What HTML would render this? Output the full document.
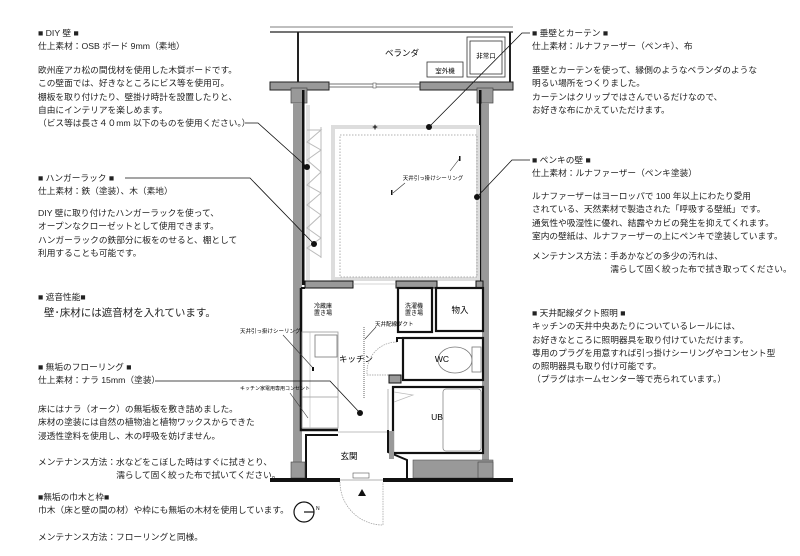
<!DOCTYPE html>
<html><head><meta charset="utf-8"><style>
body{margin:0;background:#fff;}
#w{position:relative;width:800px;height:556px;overflow:hidden;font-family:"Liberation Sans","Noto Sans CJK JP",sans-serif;color:#222;}
.t{position:absolute;font-size:8.7px;line-height:13.3px;white-space:pre;}
svg{position:absolute;left:0;top:0;}
</style></head><body><div id="w">
<svg width="800" height="556" viewBox="0 0 800 556" font-family="Liberation Sans, Noto Sans CJK JP, sans-serif">
<line x1="270" y1="27" x2="513" y2="27" stroke="#555" stroke-width="0.8"/>
<line x1="270" y1="32" x2="513" y2="32" stroke="#222" stroke-width="1.2"/>
<rect x="297" y="32" width="2" height="50" fill="#222"/>
<rect x="509" y="32" width="2" height="50" fill="#222"/>
<text x="402" y="56" font-size="8.5" text-anchor="middle">ベランダ</text>
<rect x="427" y="62" width="36" height="15" fill="none" stroke="#333" stroke-width="0.8"/>
<text x="445" y="73" font-size="6.5" text-anchor="middle">室外機</text>
<rect x="467" y="37" width="38" height="40" fill="none" stroke="#333" stroke-width="0.8"/>
<rect x="470" y="41" width="32" height="33" fill="none" stroke="#333" stroke-width="0.8"/>
<text x="486" y="58" font-size="6.5" text-anchor="middle">非常口</text>
<rect x="270" y="82" width="59" height="8" fill="#999" stroke="#222" stroke-width="1"/>
<rect x="420" y="82" width="93" height="8" fill="#999" stroke="#222" stroke-width="1"/>
<line x1="329" y1="84" x2="420" y2="84" stroke="#444" stroke-width="0.7"/>
<line x1="329" y1="87" x2="420" y2="87" stroke="#444" stroke-width="0.7"/>
<rect x="373" y="83" width="3" height="5" fill="#fff" stroke="#444" stroke-width="0.5"/>
<rect x="291" y="88" width="16" height="15" fill="#999" stroke="#444" stroke-width="0.7"/>
<rect x="477" y="88" width="16" height="15" fill="#999" stroke="#444" stroke-width="0.7"/>
<rect x="293" y="103" width="9" height="360" fill="#999"/>
<rect x="482" y="103" width="7" height="357" fill="#999"/>
<rect x="302" y="90" width="2.5" height="195" fill="#111"/>
<rect x="479" y="90" width="2.5" height="195" fill="#111"/>
<rect x="306" y="105" width="4" height="175" fill="#e2e2e2"/>
<g stroke="#bbb" stroke-width="1" fill="none">
<line x1="321" y1="127" x2="321" y2="258"/>
<polyline points="307,130 321,130 307,142 321,150 307,160 321,172 307,185 321,193 307,205 321,215 307,228 321,238 307,248 321,257"/>
</g>
<rect x="333" y="127" width="145" height="152" fill="none" stroke="#ddd" stroke-width="4"/>
<rect x="340" y="135" width="137" height="142" fill="none" stroke="#999" stroke-width="0.8" stroke-dasharray="1.5,1.5"/>
<rect x="305" y="281" width="48" height="7" fill="#999" stroke="#111" stroke-width="1"/>
<rect x="396" y="281" width="41" height="7" fill="#999" stroke="#111" stroke-width="1"/>
<rect x="476" y="281" width="7" height="7" fill="#999" stroke="#111" stroke-width="1"/>
<line x1="353" y1="284" x2="396" y2="284" stroke="#aaa" stroke-width="0.6"/>
<polyline points="301,288 301,430 338,430" fill="none" stroke="#111" stroke-width="2.5"/>
<rect x="398" y="288" width="34" height="44" fill="none" stroke="#111" stroke-width="2.2"/>
<rect x="436" y="288" width="47" height="43" fill="none" stroke="#111" stroke-width="2.2"/>
<line x1="301" y1="288" x2="305" y2="288" stroke="#111" stroke-width="2"/>
<rect x="302" y="332" width="36" height="96" fill="none" stroke="#999" stroke-width="0.8"/>
<line x1="310" y1="332" x2="310" y2="428" stroke="#bbb" stroke-width="0.6"/>
<line x1="302" y1="397" x2="338" y2="397" stroke="#999" stroke-width="0.7"/>
<rect x="315" y="335" width="22" height="22" fill="none" stroke="#777" stroke-width="0.8"/>
<text x="323" y="308" font-size="6" text-anchor="middle">冷蔵庫</text>
<text x="323" y="315" font-size="6" text-anchor="middle">置き場</text>
<text x="414" y="308" font-size="6" text-anchor="middle">洗濯機</text>
<text x="414" y="315" font-size="6" text-anchor="middle">置き場</text>
<text x="460" y="313" font-size="8.5" text-anchor="middle">物入</text>
<text x="356" y="362" font-size="8.5" text-anchor="middle">キッチン</text>
<line x1="364" y1="327" x2="364" y2="398" stroke="#999" stroke-width="1.5" stroke-dasharray="1,1"/>
<text x="375" y="326" font-size="5.5">天井配線ダクト</text>
<line x1="376" y1="327" x2="365" y2="339" stroke="#333" stroke-width="0.6"/>
<path d="M397,342 A30,30 0 0 0 367,372 L367,375 L397,375" fill="none" stroke="#999" stroke-width="0.7" stroke-dasharray="1.5,1"/>
<rect x="403" y="338" width="80" height="42" fill="none" stroke="#111" stroke-width="2.2"/>
<polyline points="397,342 397,338 403,338" fill="none" stroke="#111" stroke-width="2"/>
<rect x="389" y="375" width="12" height="8" fill="#999" stroke="#111" stroke-width="1"/>
<ellipse cx="455" cy="360" rx="17" ry="13" fill="none" stroke="#777" stroke-width="0.8"/>
<rect x="472" y="347" width="9" height="25" fill="#fff" stroke="#777" stroke-width="0.8"/>
<text x="442" y="362" font-size="8.5" text-anchor="middle">WC</text>
<rect x="393" y="387" width="90" height="66" fill="none" stroke="#111" stroke-width="2.2"/>
<rect x="443" y="389" width="38" height="62" rx="3" fill="none" stroke="#888" stroke-width="0.8"/>
<polyline points="394,392 413,395 394,402" fill="none" stroke="#bbb" stroke-width="0.7"/>
<text x="437" y="420" font-size="8.5" text-anchor="middle">UB</text>
<line x1="388" y1="389" x2="388" y2="430" stroke="#999" stroke-width="0.7"/>
<polyline points="306,478 306,435 338,435" fill="none" stroke="#111" stroke-width="2"/>
<line x1="338" y1="432" x2="388" y2="432" stroke="#aaa" stroke-width="0.7"/>
<polyline points="388,430 388,452 407,460 407,478" fill="none" stroke="#111" stroke-width="2"/>
<rect x="389" y="431" width="5" height="28" fill="#999"/>
<text x="349" y="459" font-size="8.5" text-anchor="middle">玄関</text>
<rect x="353" y="473" width="16" height="5" fill="none" stroke="#555" stroke-width="0.6"/>
<rect x="413" y="460" width="80" height="18" fill="#999" stroke="#555" stroke-width="0.6"/>
<rect x="478" y="462" width="15" height="16" fill="#999" stroke="#444" stroke-width="0.6"/>
<rect x="291" y="462" width="14" height="16" fill="#999" stroke="#444" stroke-width="0.6"/>
<rect x="270" y="478" width="70" height="4" fill="#111"/>
<rect x="383" y="478" width="130" height="4" fill="#111"/>
<line x1="340" y1="480" x2="383" y2="480" stroke="#999" stroke-width="0.7"/>
<path d="M340,482 A43,43 0 0 0 383,525 L383,482" fill="none" stroke="#999" stroke-width="0.7" stroke-dasharray="1.5,1"/>
<polygon points="362,489 358,496 366,496" fill="#111"/>
<circle cx="304" cy="512" r="10" fill="none" stroke="#111" stroke-width="1.2"/>
<line x1="304" y1="512" x2="314" y2="512" stroke="#111" stroke-width="1.2"/>
<text x="316" y="510" font-size="5">N</text>
<text x="433" y="180" font-size="5.5" text-anchor="middle">天井引っ掛けシーリング</text>
<line x1="460" y1="158" x2="450" y2="171" stroke="#333" stroke-width="0.6"/>
<rect x="459" y="156" width="1.5" height="5" fill="#111"/>
<line x1="405" y1="183" x2="393" y2="193" stroke="#333" stroke-width="0.6"/>
<rect x="391" y="190" width="1.5" height="5" fill="#111"/>
<text x="375" y="130" font-size="9" text-anchor="middle" font-weight="bold">+</text>
<text x="240" y="333" font-size="5.5">天井引っ掛けシーリング</text>
<line x1="283" y1="335" x2="313" y2="368" stroke="#333" stroke-width="0.6"/>
<rect x="312" y="367" width="2" height="4" fill="#111"/>
<text x="240" y="390" font-size="5">キッチン家電用専用コンセント</text>
<line x1="290" y1="393" x2="308" y2="418" stroke="#333" stroke-width="0.6"/>
<g stroke="#111" stroke-width="0.8" fill="none">
<polyline points="245,123 258,123 307,167"/>
<polyline points="125,178 250,178 314,244"/>
<polyline points="429,127 522,33 530,33"/>
<polyline points="477,197 512,160 530,160"/>
<polyline points="155,381 330,381 360,413"/>
</g>
<circle cx="429" cy="127" r="3" fill="#111"/>
<circle cx="307" cy="167" r="3" fill="#111"/>
<circle cx="314" cy="244" r="3" fill="#111"/>
<circle cx="477" cy="197" r="3" fill="#111"/>
<circle cx="360" cy="413" r="3" fill="#111"/>
</svg>

<div class="t" style="left:38px;top:27px">■ DIY 壁 ■
仕上素材：OSB ボード 9mm（素地）</div>
<div class="t" style="left:38px;top:64px">欧州産アカ松の間伐材を使用した木質ボードです。
この壁面では、好きなところにビス等を使用可。
棚板を取り付けたり、壁掛け時計を設置したりと、
自由にインテリアを楽しめます。
（ビス等は長さ４０mm 以下のものを使用ください。）</div>
<div class="t" style="left:38px;top:172px">■ ハンガーラック ■
仕上素材：鉄（塗装）、木（素地）</div>
<div class="t" style="left:38px;top:207px">DIY 壁に取り付けたハンガーラックを使って、
オープンなクローゼットとして使用できます。
ハンガーラックの鉄部分に板をのせると、棚として
利用することも可能です。</div>
<div class="t" style="left:38px;top:291px">■ 遮音性能■</div>
<div class="t" style="left:44px;top:307px;font-size:10.5px">壁･床材には遮音材を入れています。</div>
<div class="t" style="left:38px;top:361px">■ 無垢のフローリング ■
仕上素材：ナラ 15mm（塗装）</div>
<div class="t" style="left:38px;top:403px">床にはナラ（オーク）の無垢板を敷き詰めました。
床材の塗装には自然の植物油と植物ワックスからできた
浸透性塗料を使用し、木の呼吸を妨げません。

メンテナンス方法：水などをこぼした時はすぐに拭きとり、
　　　　　　　　　濡らして固く絞った布で拭いてください。</div>
<div class="t" style="left:38px;top:491px">■無垢の巾木と枠■
巾木（床と壁の間の材）や枠にも無垢の木材を使用しています。

メンテナンス方法：フローリングと同様。</div>

<div class="t" style="left:532px;top:27px">■ 垂壁とカーテン ■
仕上素材：ルナファーザー（ペンキ）、布</div>
<div class="t" style="left:532px;top:64px">垂壁とカーテンを使って、縁側のようなベランダのような
明るい場所をつくりました。
カーテンはクリップではさんでいるだけなので、
お好きな布にかえていただけます。</div>
<div class="t" style="left:532px;top:154px">■ ペンキの壁 ■
仕上素材：ルナファーザー（ペンキ塗装）</div>
<div class="t" style="left:532px;top:190px">ルナファーザーはヨーロッパで 100 年以上にわたり愛用
されている、天然素材で製造された「呼吸する壁紙」です。
通気性や吸湿性に優れ、結露やカビの発生を抑えてくれます。
室内の壁紙は、ルナファーザーの上にペンキで塗装しています。</div>
<div class="t" style="left:532px;top:250px">メンテナンス方法：手あかなどの多少の汚れは、
　　　　　　　　　濡らして固く絞った布で拭き取ってください。</div>
<div class="t" style="left:532px;top:307px">■ 天井配線ダクト照明 ■
キッチンの天井中央あたりについているレールには、
お好きなところに照明器具を取り付けていただけます。
専用のプラグを用意すれば引っ掛けシーリングやコンセント型
の照明器具も取り付け可能です。
（プラグはホームセンター等で売られています。）</div>
</div></body></html>
